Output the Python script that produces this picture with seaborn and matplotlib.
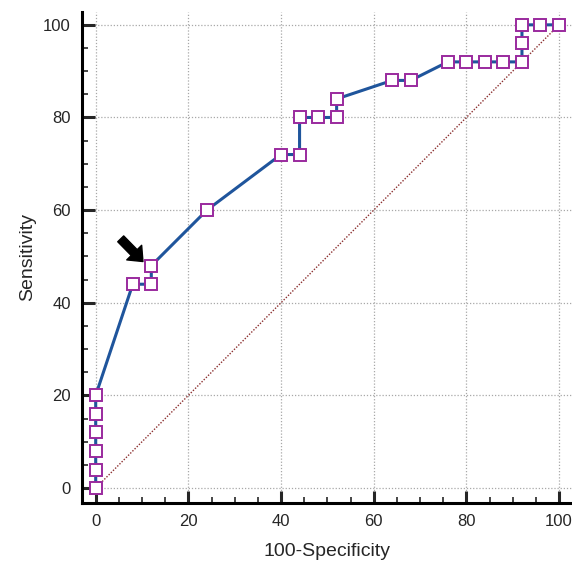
# ROC curve with reference diagonal
import numpy as np
import pandas as pd
import matplotlib
matplotlib.use('Agg')
import matplotlib.pyplot as plt
from matplotlib.ticker import MultipleLocator
import seaborn as sns

# Data
fpr = [0, 0, 0, 0, 0, 0, 8, 12, 12, 24, 40, 44, 44, 48, 52, 52, 64, 68,
       76, 80, 84, 88, 92, 92, 92, 96, 100]
sens = [0, 4, 8, 12, 16, 20, 44, 44, 48, 60, 72, 72, 80, 80, 80, 84, 88, 88,
        92, 92, 92, 92, 92, 96, 100, 100, 100]
diag_x = [0, 100]
diag_y = [0, 100]
cut_point = (12, 48)

roc = pd.DataFrame({'fpr': fpr, 'sens': sens})
diag = pd.DataFrame({'x': diag_x, 'y': diag_y})

sns.set_style('white')
plt.rcParams['font.family'] = ['Liberation Sans', 'DejaVu Sans']

fig = plt.figure(figsize=(5.72, 5.65), dpi=100)
ax = fig.add_axes([0.143, 0.110, 0.857, 0.869])

# Diagonal reference line
sns.lineplot(x='x', y='y', data=diag, ax=ax, color='#8b2f2f', linestyle=(0, (1, 1.2)),
             linewidth=1.0, zorder=2)

# ROC curve
sns.lineplot(x='fpr', y='sens', data=roc, ax=ax, sort=False, estimator=None,
             color='#1f559c', linewidth=2.2, marker='s', markersize=8.5,
             markerfacecolor='white', markeredgecolor='#9a2a9e', markeredgewidth=1.4,
             zorder=3)

# Arrow pointing at the cut-off point
ax.annotate('', xy=(cut_point[0] - 1.8, cut_point[1] + 0.9),
            xytext=(cut_point[0] - 6.6, cut_point[1] + 5.8),
            arrowprops=dict(facecolor='black', edgecolor='black', width=6,
                            headwidth=15, headlength=9, shrink=0))

ax.set_xlim(-3, 102.8)
ax.set_ylim(-3.2, 102.8)
ax.xaxis.set_major_locator(MultipleLocator(20))
ax.yaxis.set_major_locator(MultipleLocator(20))
ax.xaxis.set_minor_locator(MultipleLocator(5))
ax.yaxis.set_minor_locator(MultipleLocator(5))

ax.grid(True, which='major', color='#a8a8a8', linestyle=(0, (1, 1.5)), linewidth=0.9)
ax.set_axisbelow(True)

for side in ['top', 'right']:
    ax.spines[side].set_visible(False)
for side in ['left', 'bottom']:
    ax.spines[side].set_color('black')
    ax.spines[side].set_linewidth(2.2)

ax.tick_params(which='major', direction='in', length=9, width=2.2, labelsize=12,
               left=True, bottom=True, pad=8)
ax.tick_params(which='minor', direction='in', length=4.5, width=1.2, left=True, bottom=True)

ax.set_xlabel('100-Specificity', fontsize=14, labelpad=10)
ax.set_ylabel('Sensitivity', fontsize=14, labelpad=5)

fig.savefig('out.png', dpi=100)
